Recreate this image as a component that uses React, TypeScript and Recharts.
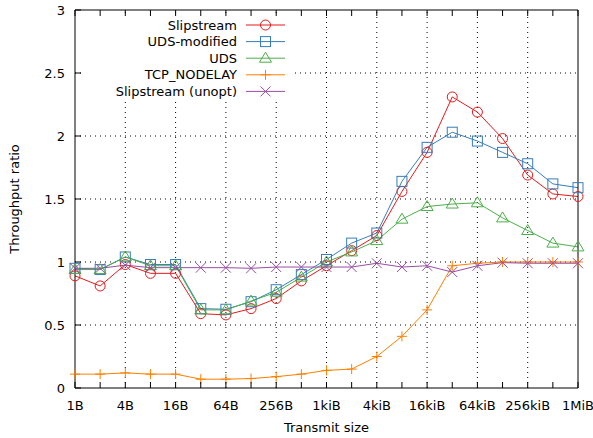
import { LineChart, Line, XAxis, YAxis, ReferenceLine, Legend, Label } from 'recharts';

const sizes = ['1B', '2B', '4B', '8B', '16B', '32B', '64B', '128B', '256B', '512B', '1kiB', '2kiB', '4kiB', '8kiB', '16kiB', '32kiB', '64kiB', '128kiB', '256kiB', '512kiB', '1MiB'];
const labelledSizes = ['1B', '4B', '16B', '64B', '256B', '1kiB', '4kiB', '16kiB', '64kiB', '256kiB', '1MiB'];
const yTicks = [0, 0.5, 1, 1.5, 2, 2.5, 3];

const slipstream = [0.89, 0.81, 0.98, 0.91, 0.91, 0.59, 0.58, 0.63, 0.71, 0.85, 0.97, 1.09, 1.21, 1.56, 1.87, 2.31, 2.19, 1.98, 1.69, 1.54, 1.52];
const udsModified = [0.95, 0.94, 1.04, 0.98, 0.98, 0.63, 0.625, 0.685, 0.78, 0.9, 1.02, 1.15, 1.23, 1.64, 1.91, 2.03, 1.96, 1.87, 1.78, 1.62, 1.59];
const uds = [0.94, 0.94, 1.04, 0.97, 0.97, 0.62, 0.62, 0.69, 0.76, 0.88, 1.0, 1.08, 1.17, 1.34, 1.44, 1.46, 1.47, 1.35, 1.25, 1.15, 1.12];
const tcpNodelay = [0.11, 0.11, 0.12, 0.11, 0.11, 0.07, 0.07, 0.075, 0.09, 0.11, 0.14, 0.15, 0.25, 0.41, 0.62, 0.97, 0.99, 1.0, 1.0, 1.0, 1.0];
const slipstreamUnopt = [0.95, 0.95, 0.975, 0.955, 0.955, 0.955, 0.955, 0.95, 0.96, 0.96, 0.96, 0.96, 0.99, 0.96, 0.97, 0.92, 0.97, 0.995, 0.99, 0.99, 0.99];

type Shape = 'circle' | 'square' | 'triangle' | 'plus' | 'cross';

const SERIES: { key: string; name: string; color: string; shape: Shape }[] = [
  { key: 'slip', name: 'Slipstream', color: '#e41a1c', shape: 'circle' },
  { key: 'udsMod', name: 'UDS-modified', color: '#377eb8', shape: 'square' },
  { key: 'uds', name: 'UDS', color: '#4daf4a', shape: 'triangle' },
  { key: 'tcp', name: 'TCP_NODELAY', color: '#ff7f00', shape: 'plus' },
  { key: 'unopt', name: 'Slipstream (unopt)', color: '#984ea3', shape: 'cross' },
];

const data = sizes.map((size, i) => ({
  idx: i,
  size,
  slip: slipstream[i],
  udsMod: udsModified[i],
  uds: uds[i],
  tcp: tcpNodelay[i],
  unopt: slipstreamUnopt[i],
}));

const FONT = '"DejaVu Sans", sans-serif';
const W = 593;
const H = 438;
const TICK = 6;

function Marker({ cx, cy, shape, color }: { cx: number; cy: number; shape: Shape; color: string }) {
  if (cx == null || cy == null) return null;
  const s = 5;
  const common = { fill: 'none', stroke: color, strokeWidth: 1 };
  switch (shape) {
    case 'circle':
      return <circle cx={cx} cy={cy} r={s} {...common} />;
    case 'square':
      return <rect x={cx - s} y={cy - s} width={2 * s} height={2 * s} {...common} />;
    case 'triangle':
      return <path d={`M${cx},${cy - s - 1}L${cx + s + 1},${cy + s - 1}L${cx - s - 1},${cy + s - 1}Z`} {...common} />;
    case 'plus':
      return <path d={`M${cx - s},${cy}H${cx + s}M${cx},${cy - s}V${cy + s}`} {...common} />;
    default:
      return <path d={`M${cx - s},${cy - s}L${cx + s},${cy + s}M${cx - s},${cy + s}L${cx + s},${cy - s}`} {...common} />;
  }
}

const dotFor = (shape: Shape, color: string) => (props: any) =>
  <Marker key={`${shape}-${props.index}`} cx={props.cx} cy={props.cy} shape={shape} color={color} />;

// bottom axis: inward tick plus label every other size
const BottomTick = (props: any) => {
  const { x, y, payload } = props;
  const axisY = y - 13;
  const name = sizes[payload.value];
  return (
    <g>
      <line x1={x} x2={x} y1={axisY} y2={axisY - TICK} stroke='#000' />
      {labelledSizes.includes(name) && (
        <text x={x} y={y} dy='0.71em' textAnchor='middle' fontFamily={FONT} fontSize={13} fill='#000'>
          {name}
        </text>
      )}
    </g>
  );
};

const TopTick = (props: any) => (
  <line x1={props.x} x2={props.x} y1={props.y} y2={props.y + TICK} stroke='#000' />
);

const LeftTick = (props: any) => {
  const { x, y, payload } = props;
  const axisX = x + 10;
  return (
    <g>
      <line x1={axisX} x2={axisX + TICK} y1={y} y2={y} stroke='#000' />
      <text x={x} y={y} dy='0.355em' textAnchor='end' fontFamily={FONT} fontSize={13} fill='#000'>
        {String(payload.value)}
      </text>
    </g>
  );
};

const RightTick = (props: any) => (
  <line x1={props.x} x2={props.x - TICK} y1={props.y} y2={props.y} stroke='#000' />
);

function KeyBox() {
  return (
    <svg width={208} height={84} style={{ display: 'block' }}>
      {SERIES.map((s, i) => {
        const y = 9 + i * 16.6;
        return (
          <g key={s.key}>
            <text x={153} y={y} dy='0.355em' textAnchor='end' fontFamily={FONT} fontSize={13} fill='#000'>
              {s.name}
            </text>
            <line x1={162} x2={201} y1={y} y2={y} stroke={s.color} strokeWidth={1} />
            <Marker cx={181.5} cy={y} shape={s.shape} color={s.color} />
          </g>
        );
      })}
    </svg>
  );
}

export default function App() {
  return (
    <div style={{ position: 'absolute', left: 0, top: 0, background: '#fff' }}>
      <LineChart width={W} height={H} data={data} margin={{ top: 0, right: 0, bottom: 0, left: 0 }}>
        <XAxis
          dataKey='idx'
          type='number'
          domain={[0, 20]}
          ticks={sizes.map((_, i) => i)}
          interval={0}
          height={50}
          tickSize={0}
          tickMargin={13}
          tick={BottomTick}
          axisLine={{ stroke: '#000' }}
        >
          <Label value='Transmit size' position='insideBottom' offset={6} fontFamily={FONT} fontSize={13} fill='#000' />
        </XAxis>
        <XAxis
          xAxisId='top'
          orientation='top'
          type='number'
          domain={[0, 20]}
          ticks={sizes.map((_, i) => i)}
          interval={0}
          height={10}
          tickSize={0}
          tickMargin={0}
          tick={TopTick}
          axisLine={{ stroke: '#000' }}
        />
        <YAxis
          domain={[0, 3]}
          ticks={yTicks}
          interval={0}
          width={75}
          tickSize={0}
          tickMargin={10}
          tick={LeftTick}
          axisLine={{ stroke: '#000' }}
        >
          <Label
            value='Throughput ratio'
            angle={-90}
            position='insideLeft'
            offset={14}
            fontFamily={FONT}
            fontSize={13}
            fill='#000'
            style={{ textAnchor: 'middle' }}
          />
        </YAxis>
        <YAxis
          yAxisId='right'
          orientation='right'
          domain={[0, 3]}
          ticks={yTicks}
          interval={0}
          width={15}
          tickSize={0}
          tickMargin={0}
          tick={RightTick}
          axisLine={{ stroke: '#000' }}
        />

        {yTicks.slice(1, -1).map((v) => (
          <ReferenceLine key={`h${v}`} y={v} stroke='#000' strokeDasharray='1 4' strokeWidth={1} />
        ))}
        {sizes.map((s, i) =>
          labelledSizes.includes(s) && i > 0 && i < sizes.length - 1 ? (
            <ReferenceLine key={`v${s}`} x={i} stroke='#000' strokeDasharray='1 4' strokeWidth={1} />
          ) : null,
        )}

        <Legend
          layout='vertical'
          align='center'
          verticalAlign='middle'
          content={() => <KeyBox />}
          wrapperStyle={{ position: 'absolute', left: 84, top: 16, width: 208, height: 84, background: '#fff' }}
        />

        {SERIES.map((s) => (
          <Line
            key={s.key}
            type='linear'
            dataKey={s.key}
            name={s.name}
            stroke={s.color}
            strokeWidth={1}
            dot={dotFor(s.shape, s.color)}
            activeDot={false}
            isAnimationActive={false}
          />
        ))}
      </LineChart>
    </div>
  );
}
